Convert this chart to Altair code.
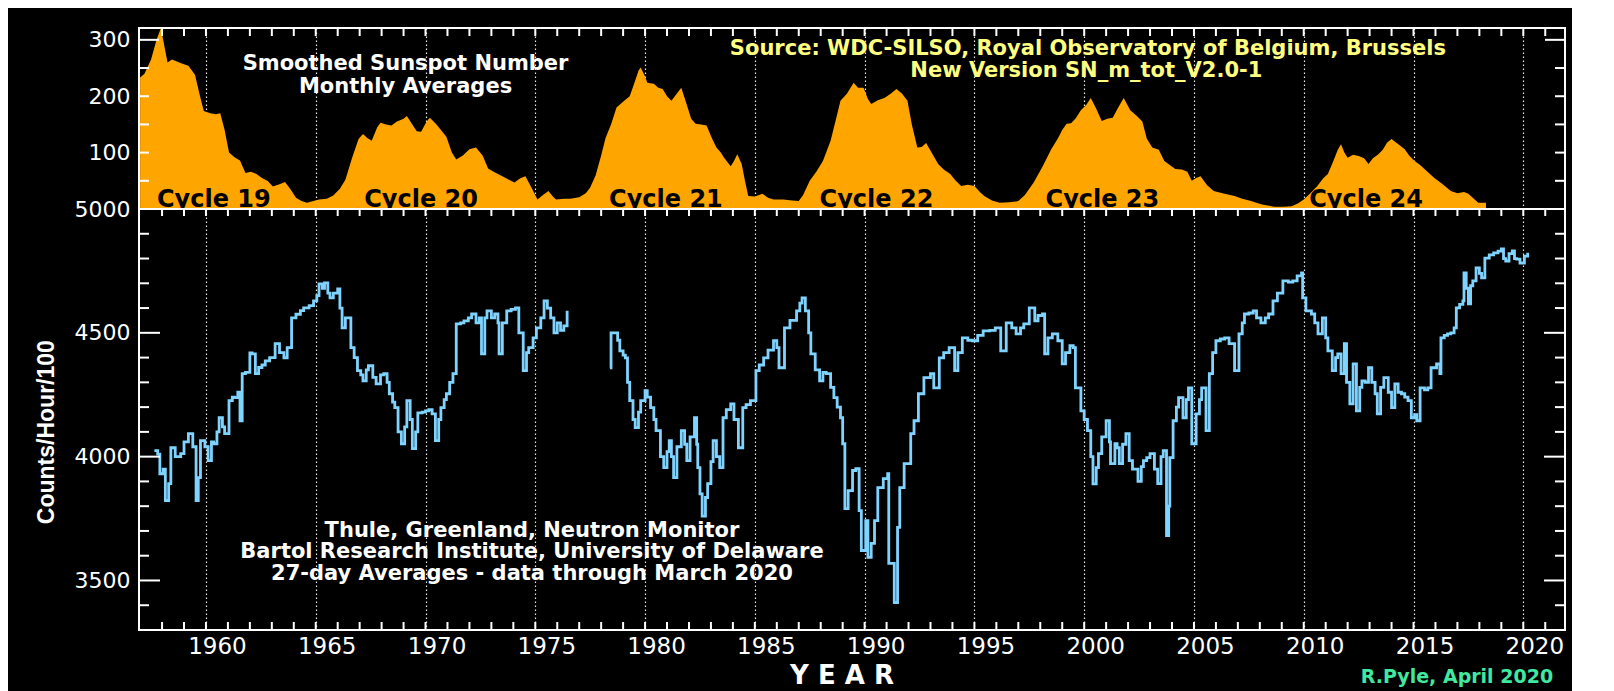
import altair as alt
import pandas as pd

# ---------------- data ----------------
ss_year = [1957.0, 1957.2, 1957.5, 1957.75, 1957.95, 1958.1, 1958.25, 1958.45, 1958.65, 1958.9,
           1959.2, 1959.5, 1959.7, 1959.9, 1960.2, 1960.45, 1960.65, 1960.85, 1961.05, 1961.3,
           1961.55, 1961.8, 1962.05, 1962.3, 1962.55, 1962.8, 1963.05, 1963.35, 1963.6, 1963.85,
           1964.1, 1964.35, 1964.6, 1964.9, 1965.15, 1965.5, 1965.8, 1966.1, 1966.35, 1966.65,
           1966.95, 1967.15, 1967.35, 1967.55, 1967.8, 1967.95, 1968.2, 1968.45, 1968.7, 1969.0,
           1969.15, 1969.4, 1969.6, 1969.8, 1970.05, 1970.2, 1970.5, 1970.75, 1970.95, 1971.2,
           1971.4, 1971.7, 1972.0, 1972.3, 1972.6, 1972.85, 1973.1, 1973.5, 1973.8, 1974.05,
           1974.3, 1974.55, 1974.8, 1975.1, 1975.35, 1975.6, 1975.8, 1975.95, 1976.3, 1976.6,
           1977.0, 1977.3, 1977.5, 1977.75, 1978.0, 1978.2, 1978.45, 1978.7, 1979.05, 1979.3,
           1979.5, 1979.7, 1979.8, 1980.0, 1980.1, 1980.4, 1980.6, 1980.8, 1981.0, 1981.2,
           1981.45, 1981.65, 1981.9, 1982.1, 1982.3, 1982.55, 1982.8, 1983.05, 1983.25, 1983.45,
           1983.6, 1983.9, 1984.05, 1984.2, 1984.4, 1984.55, 1984.7, 1985.0, 1985.35, 1985.6,
           1985.85, 1986.3, 1986.7, 1987.0, 1987.2, 1987.5, 1987.8, 1988.1, 1988.45, 1988.7,
           1988.9, 1989.2, 1989.5, 1989.7, 1989.95, 1990.15, 1990.3, 1990.6, 1990.9, 1991.2,
           1991.45, 1991.7, 1991.95, 1992.15, 1992.4, 1992.6, 1992.8, 1993.05, 1993.35, 1993.6,
           1993.9, 1994.15, 1994.4, 1994.7, 1995.0, 1995.25, 1995.45, 1995.8, 1996.15, 1996.6,
           1997.0, 1997.3, 1997.7, 1998.1, 1998.5, 1998.8, 1999.0, 1999.2, 1999.4, 1999.6,
           1999.85, 2000.1, 2000.3, 2000.55, 2000.8, 2001.05, 2001.3, 2001.55, 2001.8, 2002.1,
           2002.4, 2002.65, 2002.85, 2003.1, 2003.4, 2003.65, 2003.9, 2004.15, 2004.45, 2004.7,
           2004.9, 2005.1, 2005.3, 2005.6, 2005.9, 2006.3, 2006.85, 2007.2, 2007.6, 2008.1,
           2008.65, 2009.1, 2009.45, 2009.75, 2010.0, 2010.3, 2010.6, 2010.9, 2011.1, 2011.35,
           2011.55, 2011.7, 2011.85, 2012.0, 2012.25, 2012.5, 2012.75, 2012.95, 2013.15, 2013.4,
           2013.6, 2013.8, 2014.0, 2014.2, 2014.4, 2014.6, 2014.8, 2015.05, 2015.3, 2015.5,
           2015.75, 2015.95, 2016.3, 2016.7, 2017.0, 2017.3, 2017.5, 2017.75, 2017.95, 2018.3]
ss_value = [233, 240, 265, 300, 321, 290, 260, 265, 262, 258,
            254, 238, 205, 174, 170, 168, 170, 140, 100, 92,
            86, 64, 66, 62, 55, 50, 40, 44, 48, 35,
            20, 14, 11, 14, 17, 18, 24, 36, 52, 90,
            124, 133, 126, 121, 145, 153, 150, 148, 155, 160,
            165, 150, 138, 137, 155, 162, 150, 138, 128, 100,
            88, 95, 106, 109, 95, 72, 66, 58, 52, 47,
            54, 58, 40, 17, 25, 32, 22, 17, 18, 18,
            21, 28, 38, 60, 95, 126, 150, 180, 192, 200,
            222, 245, 251, 235, 224, 222, 215, 213, 200, 192,
            205, 215, 185, 160, 151, 150, 148, 125, 109, 100,
            91, 76, 85, 97, 80, 50, 23, 22, 27, 20,
            17, 17, 15, 14, 25, 50, 66, 85, 121, 160,
            192, 205, 224, 215, 215, 195, 186, 193, 197, 205,
            213, 205, 192, 150, 109, 110, 117, 100, 80, 70,
            62, 50, 41, 43, 41, 30, 23, 15, 11, 12,
            14, 25, 47, 75, 106, 125, 140, 151, 152, 160,
            175, 185, 197, 178, 156, 160, 162, 180, 197, 175,
            165, 155, 125, 109, 105, 85, 78, 71, 70, 66,
            50, 55, 58, 42, 32, 28, 23, 18, 14, 8,
            4, 4, 5, 10, 17, 28, 40, 55, 62, 85,
            105, 115, 100, 91, 96, 94, 90, 80, 90, 97,
            105, 118, 124, 118, 112, 106, 95, 85, 78, 71,
            62, 55, 45, 32, 28, 30, 27, 18, 11, 11]

nm1_year = [1957.65, 1957.8, 1957.9, 1958.05, 1958.15, 1958.3, 1958.4, 1958.6, 1958.85, 1959.0,
            1959.2, 1959.4, 1959.55, 1959.65, 1959.75, 1959.95, 1960.1, 1960.25, 1960.35, 1960.5,
            1960.6, 1960.75, 1960.85, 1961.05, 1961.2, 1961.3, 1961.45, 1961.55, 1961.65, 1961.8,
            1962.0, 1962.1, 1962.25, 1962.4, 1962.55, 1962.7, 1962.9, 1963.15, 1963.35, 1963.55,
            1963.7, 1963.9, 1964.1, 1964.3, 1964.45, 1964.7, 1964.9, 1965.05, 1965.15, 1965.3,
            1965.4, 1965.55, 1965.65, 1965.8, 1966.0, 1966.1, 1966.2, 1966.35, 1966.45, 1966.6,
            1966.75, 1966.9, 1967.05, 1967.15, 1967.3, 1967.4, 1967.6, 1967.75, 1967.95, 1968.1,
            1968.25, 1968.35, 1968.5, 1968.6, 1968.75, 1968.9, 1969.05, 1969.15, 1969.3, 1969.4,
            1969.55, 1969.65, 1969.85, 1970.0, 1970.15, 1970.3, 1970.45, 1970.6, 1970.7, 1970.85,
            1970.95, 1971.1, 1971.25, 1971.4, 1971.6, 1971.75, 1971.95, 1972.1, 1972.3, 1972.45,
            1972.55, 1972.7, 1972.8, 1973.0, 1973.15, 1973.3, 1973.35, 1973.5, 1973.7, 1973.9,
            1974.1, 1974.25, 1974.45, 1974.6, 1974.7, 1974.9, 1975.05, 1975.25, 1975.4, 1975.55,
            1975.7, 1975.85, 1976.0, 1976.15, 1976.3, 1976.45]
nm1_value = [4024, 4010, 3931, 3950, 3823, 3891, 4036, 4000, 4012, 4060,
             4093, 4040, 3823, 3915, 4065, 4040, 3984, 4060, 4052, 4100,
             4157, 4120, 4093, 4226, 4240, 4238, 4260, 4145, 4335, 4340,
             4419, 4415, 4335, 4360, 4370, 4387, 4400, 4456, 4420, 4399,
             4440, 4560, 4575, 4590, 4601, 4610, 4629, 4650, 4698, 4680,
             4702, 4660, 4641, 4660, 4677, 4600, 4520, 4560, 4560, 4440,
             4400, 4347, 4330, 4306, 4350, 4367, 4320, 4294, 4330, 4335,
             4300, 4254, 4220, 4198, 4100, 4052, 4120, 4226, 4150, 4032,
             4100, 4177, 4180, 4185, 4190, 4173, 4065, 4150, 4198, 4230,
             4254, 4300, 4335, 4536, 4540, 4548, 4560, 4576, 4540, 4560,
             4415, 4560, 4589, 4560, 4576, 4540, 4415, 4540, 4589, 4595,
             4601, 4500, 4347, 4420, 4440, 4480, 4520, 4560, 4629, 4600,
             4560, 4500, 4540, 4510, 4528, 4589]

nm2_year = [1978.4, 1978.45, 1978.6, 1978.75, 1978.85, 1979.0, 1979.1, 1979.2, 1979.3, 1979.45,
            1979.55, 1979.7, 1979.8, 1980.0, 1980.1, 1980.25, 1980.4, 1980.5, 1980.7, 1980.85,
            1981.0, 1981.1, 1981.2, 1981.3, 1981.45, 1981.65, 1981.8, 1981.9, 1982.05, 1982.25,
            1982.35, 1982.4, 1982.5, 1982.6, 1982.75, 1982.85, 1983.0, 1983.1, 1983.25, 1983.4,
            1983.55, 1983.7, 1983.9, 1984.05, 1984.25, 1984.45, 1984.6, 1984.8, 1985.05, 1985.2,
            1985.4, 1985.6, 1985.85, 1986.0, 1986.1, 1986.35, 1986.6, 1986.9, 1987.05, 1987.15,
            1987.3, 1987.45, 1987.55, 1987.75, 1987.95, 1988.1, 1988.25, 1988.45, 1988.6, 1988.75,
            1988.9, 1989.0, 1989.1, 1989.25, 1989.45, 1989.6, 1989.75, 1989.85, 1990.05, 1990.15,
            1990.3, 1990.45, 1990.6, 1990.85, 1991.05, 1991.1, 1991.35, 1991.5, 1991.6, 1991.8,
            1992.0, 1992.1, 1992.25, 1992.45, 1992.7, 1993.0, 1993.15, 1993.4, 1993.6, 1993.85,
            1994.1, 1994.25, 1994.45, 1994.7, 1994.9, 1995.15, 1995.4, 1995.7, 1995.95, 1996.2,
            1996.45, 1996.7, 1996.9, 1997.1, 1997.25, 1997.5, 1997.75, 1997.9, 1998.1, 1998.2,
            1998.35, 1998.55, 1998.8, 1999.0, 1999.15, 1999.35, 1999.5, 1999.6, 1999.85, 2000.0,
            2000.15, 2000.3, 2000.4, 2000.55, 2000.65, 2000.8, 2001.0, 2001.15, 2001.2, 2001.4,
            2001.5, 2001.6, 2001.75, 2001.9, 2002.05, 2002.2, 2002.45, 2002.6, 2002.7, 2002.85,
            2003.0, 2003.2, 2003.35, 2003.5, 2003.6, 2003.75, 2003.85, 2003.9, 2004.05, 2004.2,
            2004.3, 2004.5, 2004.65, 2004.75, 2004.9, 2005.1, 2005.25, 2005.35, 2005.55, 2005.7,
            2005.85, 2006.0, 2006.2, 2006.4, 2006.6, 2006.85, 2007.05, 2007.2, 2007.3, 2007.5,
            2007.7, 2007.85, 2008.05, 2008.25, 2008.4, 2008.6, 2008.8, 2009.05, 2009.3, 2009.5,
            2009.7, 2009.9, 2009.95, 2010.1, 2010.35, 2010.5, 2010.65, 2010.85, 2011.0, 2011.1,
            2011.3, 2011.45, 2011.55, 2011.7, 2011.85, 2011.95, 2012.1, 2012.25, 2012.4, 2012.55,
            2012.65, 2012.8, 2012.95, 2013.1, 2013.25, 2013.35, 2013.5, 2013.65, 2013.85, 2014.0,
            2014.15, 2014.3, 2014.45, 2014.6, 2014.75, 2014.9, 2015.05, 2015.15, 2015.3, 2015.5,
            2015.65, 2015.8, 2016.05, 2016.2, 2016.25, 2016.4, 2016.55, 2016.7, 2016.85, 2016.95,
            2017.1, 2017.25, 2017.3, 2017.4, 2017.5, 2017.6, 2017.7, 2017.85, 2018.0, 2018.1,
            2018.25, 2018.45, 2018.65, 2018.85, 2019.0, 2019.1, 2019.2, 2019.35, 2019.5, 2019.6,
            2019.7, 2019.85, 2020.05, 2020.2]
nm2_value = [4359, 4500, 4500, 4470, 4427, 4410, 4399, 4300, 4226, 4150,
             4117, 4180, 4226, 4266, 4240, 4198, 4150, 4105, 4000, 3956,
             4020, 4065, 4000, 3915, 4040, 4105, 4050, 3984, 4080, 4157,
             4050, 3956, 3850, 3760, 3835, 3891, 3980, 4065, 4000, 3956,
             4157, 4190, 4213, 4150, 4036, 4198, 4210, 4226, 4347, 4370,
             4399, 4430, 4468, 4440, 4359, 4520, 4550, 4589, 4620, 4641,
             4589, 4500, 4415, 4350, 4306, 4340, 4335, 4280, 4238, 4200,
             4157, 4052, 3790, 3863, 3944, 3952, 3782, 3621, 3742, 3593,
             3650, 3742, 3875, 3911, 3931, 3569, 3411, 3714, 3875, 3972,
             3972, 4093, 4145, 4254, 4319, 4335, 4278, 4399, 4420, 4440,
             4347, 4420, 4480, 4470, 4468, 4490, 4508, 4510, 4520, 4427,
             4540, 4520, 4496, 4520, 4536, 4601, 4548, 4570, 4576, 4415,
             4480, 4496, 4468, 4375, 4420, 4448, 4440, 4278, 4185, 4150,
             4105, 4000, 3890, 3956, 4012, 4080, 4145, 4060, 3972, 4052,
             4036, 3972, 4050, 4093, 3984, 3950, 3900, 3960, 3984, 3996,
             4012, 3950, 3891, 4000, 4024, 3681, 3800, 3996, 4145, 4200,
             4238, 4157, 4230, 4278, 4052, 4173, 4230, 4278, 4105, 4335,
             4420, 4468, 4475, 4480, 4456, 4347, 4496, 4540, 4576, 4580,
             4589, 4560, 4540, 4560, 4576, 4629, 4660, 4710, 4705, 4710,
             4730, 4742, 4641, 4589, 4576, 4540, 4496, 4560, 4480, 4427,
             4347, 4400, 4415, 4335, 4456, 4300, 4213, 4375, 4185, 4280,
             4306, 4300, 4359, 4300, 4254, 4173, 4280, 4319, 4260, 4198,
             4294, 4260, 4254, 4240, 4226, 4157, 4170, 4145, 4278, 4270,
             4278, 4359, 4375, 4335, 4480, 4490, 4496, 4500, 4520, 4601,
             4615, 4629, 4742, 4680, 4617, 4690, 4710, 4762, 4740, 4722,
             4802, 4815, 4823, 4830, 4839, 4800, 4790, 4820, 4831, 4800,
             4798, 4782, 4810, 4823]

tick_years = list(range(1958, 2022))
label_years = list(range(1960, 2021, 5))
ss_tick_vals = [50, 100, 150, 200, 250]
ss_tick_major = [300]
ss_label_vals = [100, 200, 300]
nm_tick_vals = [3400, 3600, 3700, 3800, 3900, 4100, 4200, 4300, 4400, 4600, 4700, 4800, 4900]
nm_tick_major = [3500, 4000, 4500]
nm_label_vals = [3500, 4000, 4500, 5000]

cycle_names = ["Cycle 19", "Cycle 20", "Cycle 21", "Cycle 22", "Cycle 23", "Cycle 24"]
cycle_x = [1960.36, 1969.8, 1980.95, 1990.54, 2000.83, 2012.84]
cycle_y = [3.0, 3.0, 3.0, 3.0, 3.0, 3.0]

top_white_text = ["Smoothed Sunspot Number", "Monthly Averages"]
top_white_x = [1969.09, 1969.09]
top_white_y = [257, 217]
top_yellow_text = ["Source: WDC-SILSO, Royal Observatory of Belgium, Brussels", "New Version SN_m_tot_V2.0-1"]
top_yellow_x = [2000.17, 2000.1]
top_yellow_y = [283, 245]

bot_text = ["Thule, Greenland, Neutron Monitor",
            "Bartol Research Institute, University of Delaware",
            "27-day Averages - data through March 2020"]
bot_x = [1974.85, 1974.85, 1974.85]
bot_y = [3701, 3615, 3526]

# ---------------- styling ----------------
W = 1426
H1 = 181
H2 = 421
ORANGE = "#ffa500"
BLUE = "#7fd3ff"
YELLOW = "#ffff80"
GREEN = "#40e8a0"
FONT = "DejaVu Sans"

xs = alt.Scale(domain=[1956.95, 2021.9], nice=False, zero=False)
ys1 = alt.Scale(domain=[0, 321], nice=False, zero=False)
ys2 = alt.Scale(domain=[3300, 5000], nice=False, zero=False)

grid_kw = dict(grid=True, gridColor="#e8e8e8", gridDash=[1.5, 2.5], gridWidth=1.2,
               ticks=False, tickSize=0, domain=False, title=None)

ax_top_x = alt.Axis(values=label_years, labels=False, **grid_kw)
ax_top_y = alt.Axis(values=ss_label_vals, format="d", grid=False, ticks=False, tickSize=0,
                    domain=False, title=None, labelColor="white", labelFont=FONT,
                    labelFontSize=22, labelPadding=9)
ax_bot_x = alt.Axis(values=label_years, format="d", labelColor="white", labelFont=FONT,
                    labelFontSize=23, labelPadding=5, labelOffset=11, labelFlush=False, **grid_kw)
ax_bot_y = alt.Axis(values=nm_label_vals, format="d", grid=False, ticks=False, tickSize=0,
                    domain=False, title=None, labelColor="white", labelFont=FONT,
                    labelFontSize=22, labelPadding=9)

ss_df = pd.DataFrame({"year": ss_year, "v": ss_value})
nm_df = pd.DataFrame({
    "year": nm1_year + nm2_year,
    "v": nm1_value + nm2_value,
    "seg": ["a"] * len(nm1_year) + ["b"] * len(nm2_year),
})
tick_df = pd.DataFrame({"year": tick_years})


def enc_xy(ax_x, ax_y, ys):
    return dict(x=alt.X("year:Q", scale=xs, axis=ax_x), y=alt.Y("v:Q", scale=ys, axis=ax_y))


def yticks(vals, ys, ax_x, ax_y, x0, x1):
    return alt.Chart(pd.DataFrame({"v": vals})).mark_rule(color="white", strokeWidth=2).encode(
        y=alt.Y("v:Q", scale=ys, axis=ax_y),
        x=alt.value(x0), x2=alt.value(x1))


def xticks(ax_x, y0, y1):
    return alt.Chart(tick_df).mark_rule(color="white", strokeWidth=2).encode(
        x=alt.X("year:Q", scale=xs, axis=ax_x),
        y=alt.value(y0), y2=alt.value(y1))


def texts(xv, yv, tv, ax_x, ax_y, ys, **mk):
    df = pd.DataFrame({"year": xv, "v": yv, "t": tv})
    return alt.Chart(df).mark_text(**mk).encode(text="t:N", **enc_xy(ax_x, ax_y, ys))


# ---------------- top panel ----------------
area = alt.Chart(ss_df).mark_area(color=ORANGE, clip=True).encode(**enc_xy(ax_top_x, ax_top_y, ys1))

top_layers = [
    area,
    xticks(ax_top_x, 0, 8),
    yticks(ss_tick_vals, ys1, ax_top_x, ax_top_y, 0, 10),
    yticks(ss_tick_major, ys1, ax_top_x, ax_top_y, 0, 20),
    yticks(ss_tick_vals, ys1, ax_top_x, ax_top_y, W, W - 10),
    yticks(ss_tick_major, ys1, ax_top_x, ax_top_y, W, W - 20),
    texts(cycle_x, cycle_y, cycle_names, ax_top_x, ax_top_y, ys1,
          font=FONT, fontSize=24, fontWeight="bold", color="black", baseline="alphabetic", align="center"),
    texts(top_white_x, top_white_y, top_white_text, ax_top_x, ax_top_y, ys1,
          font=FONT, fontSize=21, fontWeight="bold", color="white", baseline="middle", align="center"),
    texts(top_yellow_x, top_yellow_y, top_yellow_text, ax_top_x, ax_top_y, ys1,
          font=FONT, fontSize=21, fontWeight="bold", color=YELLOW, baseline="middle", align="center"),
]
top = alt.layer(*top_layers).properties(width=W, height=H1)

# ---------------- bottom panel ----------------
line = alt.Chart(nm_df).mark_line(color=BLUE, strokeWidth=2.8, interpolate="step-after").encode(
    detail="seg:N", **enc_xy(ax_bot_x, ax_bot_y, ys2))

bot_layers = [
    line,
    xticks(ax_bot_x, 0, 7),
    xticks(ax_bot_x, H2, H2 - 8),
    yticks(nm_tick_vals, ys2, ax_bot_x, ax_bot_y, 0, 10),
    yticks(nm_tick_major, ys2, ax_bot_x, ax_bot_y, 0, 21),
    yticks(nm_tick_vals, ys2, ax_bot_x, ax_bot_y, W, W - 10),
    yticks(nm_tick_major, ys2, ax_bot_x, ax_bot_y, W, W - 21),
    texts(bot_x, bot_y, bot_text, ax_bot_x, ax_bot_y, ys2,
          font=FONT, fontSize=21, fontWeight="bold", color="white", baseline="middle", align="center"),
    texts([1952.78], [4099], ["Counts/Hour/100"], ax_bot_x, ax_bot_y, ys2,
          font="Liberation Sans", fontSize=23, fontWeight="bold", color="white",
          angle=270, baseline="middle", align="center"),
    texts([1988.97], [3114], ["Y E A R"], ax_bot_x, ax_bot_y, ys2,
          font=FONT, fontSize=26, fontWeight="bold", color="white", baseline="middle", align="center"),
    texts([2016.98], [3110], ["R.Pyle, April 2020"], ax_bot_x, ax_bot_y, ys2,
          font=FONT, fontSize=19, fontWeight="bold", color=GREEN, baseline="middle", align="center"),
]
bottom = alt.layer(*bot_layers).properties(width=W, height=H2)

chart = alt.vconcat(top, bottom, spacing=0).properties(
    background="black",
    bounds="flush",
    padding={"left": 27, "top": 18, "right": 5, "bottom": 0},
).configure_view(stroke="white", strokeWidth=2)

chart.save("out.html", embed_options={"renderer": "svg", "actions": False})
